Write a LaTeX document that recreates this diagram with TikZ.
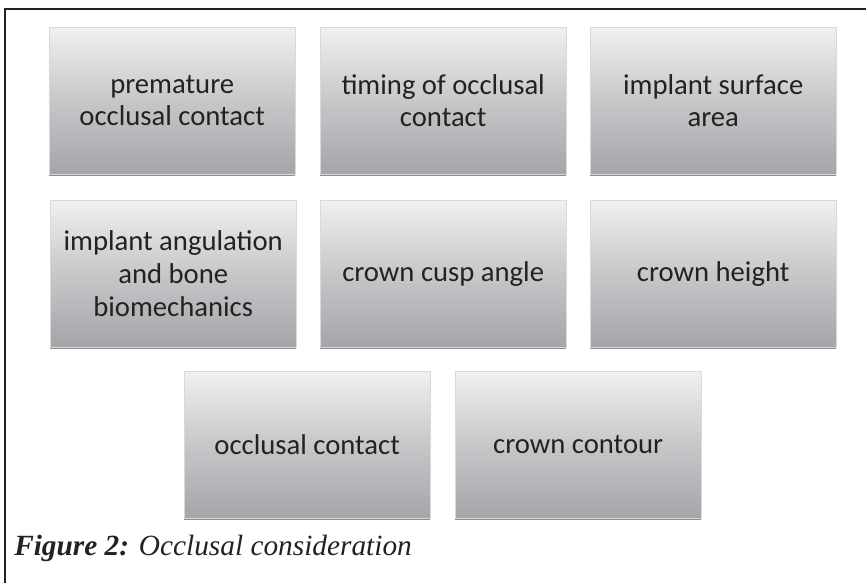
\documentclass[tikz,border=0pt]{standalone}
\usepackage{fontspec}
\setmainfont{Carlito}
\newfontfamily\capfont{Liberation Serif}
\usepackage{tikz}
\usepackage{xcolor}
\usetikzlibrary{shadows}
\definecolor{boxtop}{HTML}{F5F5F5}
\definecolor{boxmid}{HTML}{C6C7C9}
\definecolor{boxbot}{HTML}{87888C}
\definecolor{inkc}{HTML}{222222}
\pgfdeclareverticalshading{boxfade}{100bp}{color(0bp)=(boxbot); color(8bp)=(boxbot!90!boxmid);
  color(50bp)=(boxmid); color(78bp)=(boxtop); color(100bp)=(boxtop)}
\tikzset{
  frame/.style={draw=inkc, line width=1.5pt},
  factor/.style={anchor=north west, shading=boxfade, draw=black!15, line width=0.3pt,
                 minimum width=184.5pt, minimum height=110.25pt, inner sep=2pt, align=center,
                 text=inkc, font=\fontsize{21.5}{24.5}\selectfont,
                 drop shadow={shadow xshift=0pt, shadow yshift=-1.6pt, opacity=0.45, fill=black}},
  captxt/.style={anchor=base west, inner sep=0pt, text=inkc, font=\capfont\fontsize{22}{25}\selectfont},
}
\begin{document}
\begin{tikzpicture}[x=0.75pt, y=0.75pt]
  \useasboundingbox (0,0) rectangle (866,-583);
  % ---------------- frame ----------------
  \draw[frame] (5,-583) -- (5,-9) -- (866,-9);

  % ---------------- factors ----------------
  \node[factor] (prem) at (49,-27)  {premature\\occlusal contact};
  \node[factor] (timing) at (320,-27) {timing of occlusal\\contact};
  \node[factor] (surf) at (590,-27) {implant surface\\area};
  \node[factor] (angul) at (50,-200) {implant angulation\\and bone\\biomechanics};
  \node[factor] (cusp) at (320,-200) {crown cusp angle};
  \node[factor] (height) at (590,-200) {crown height};
  \node[factor] (contact) at (184,-371) {occlusal contact};
  \node[factor] (contour) at (455,-371) {crown contour};

  % ---------------- caption ----------------
  \node[captxt] (caption) at (14,-555) {\textbf{\textit{Figure 2:}} \textit{Occlusal consideration}};
\end{tikzpicture}
\end{document}
